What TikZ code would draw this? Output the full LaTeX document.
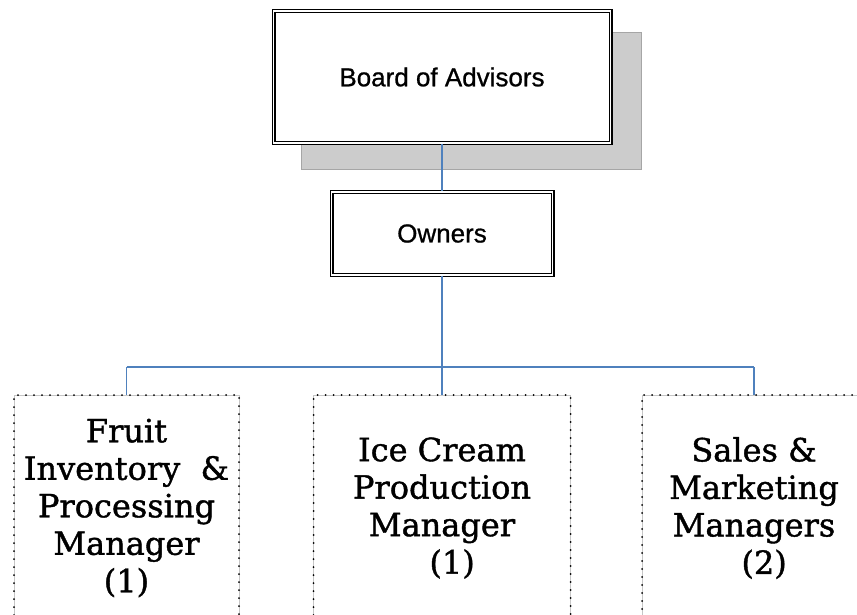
\documentclass[tikz,border=0pt]{standalone}
\usepackage{fontspec}
\newfontfamily\headfont[FakeBold=0.8]{Liberation Sans}
\newfontfamily\mgrfont[FakeBold=1.2]{DejaVu Serif}
\definecolor{linkblue}{RGB}{79,129,189}

\tikzset{
	topbox/.style={draw=black, double, line width=1.1pt, double distance=1.8pt,
		fill=white, inner sep=0pt, font=\headfont\fontsize{26}{30}\selectfont},
	shadowbox/.style={draw=gray!70, fill=gray!40, line width=0.6pt, inner sep=0pt,
		minimum width=340pt, minimum height=137pt},
	mgrbox/.style={draw=gray!45, line width=0.6pt, fill=white, inner sep=0pt,
		minimum height=226pt, align=center,
		font=\mgrfont\fontsize{32}{37.5}\selectfont,
		postaction={draw=black, line width=2pt, line cap=round, dash pattern=on 0pt off 8pt}},
	link/.style={draw=linkblue, line width=1.4pt}
}

\begin{document}
\begin{tikzpicture}[x=1pt, y=-1pt]
		\useasboundingbox (0,0) rectangle (857,615);
		\clip (0,0) rectangle (857,615);
		% top of the chart
		\node [shadowbox] (shade) at (471,100.5) {};
		\node [topbox, minimum width=337pt, minimum height=132pt] (board) at (442,77) {Board of Advisors};
		\node [topbox, minimum width=221pt, minimum height=83pt] (owners) at (442,233.5) {Owners};
		% managers
		\node [mgrbox, minimum width=225pt] (fruit) at (126.5,508) {Fruit\\Inventory\ \ \&\\Processing\\Manager\\(1)};
		\node [mgrbox, minimum width=257pt] (icecream) at (442,508) {Ice Cream\\Production\\Manager\\\ \ (1)};
		\node [mgrbox, minimum width=224pt] (sales) at (754,508) {Sales \&\\Marketing\\Managers\\\ \ (2)};
		\coordinate (bus) at (442,367);
		\draw [link] (board) -- (owners);
		\draw [link] (owners) -- (bus);
		\draw [link] (bus -| fruit) -- (bus -| sales);
		\foreach \m in {fruit,icecream,sales}
			\draw [link] (bus -| \m.north) -- (\m.north);
	\end{tikzpicture}
\end{document}
